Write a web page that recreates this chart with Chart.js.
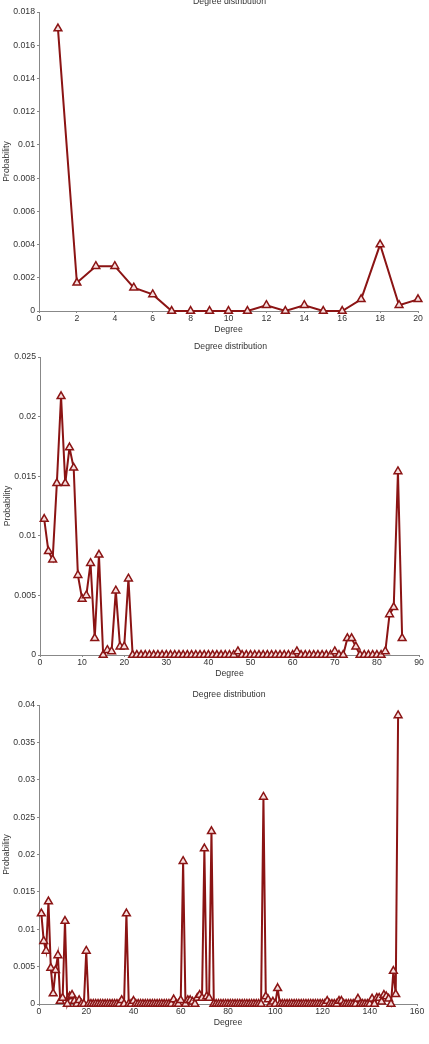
<!doctype html>
<html lang="en">

<head>
  <meta charset="utf-8">
  <title>Degree distribution</title>
  <script src="https://cdn.jsdelivr.net/npm/chart.js@4.4.0/dist/chart.umd.min.js"></script>
  <style>
    body { margin: 0; background: #fff; }
    #wrap { position: relative; width: 429px; height: 1044px; overflow: hidden; }
    .panel { position: absolute; left: 0; width: 429px; }
  </style>
</head>

<body>
  <div id="wrap">
    <div class="panel" style="top:0px;height:335px"><canvas id="c1"></canvas></div>
    <div class="panel" style="top:335px;height:344px"><canvas id="c2"></canvas></div>
    <div class="panel" style="top:685px;height:343px"><canvas id="c3"></canvas></div>
  </div>
  <script>
    // probability for degree 1, 2, 3, ... (index + 1 = degree)
    const prob1 = [0.017, 0.0017, 0.0027, 0.0027, 0.0014, 0.001, 0, 0, 0, 0,
      0, 0.00035, 0, 0.00035, 0, 0, 0.0007, 0.004, 0.00035, 0.0007];

    const prob2 = [0.0114, 0.0087, 0.0080, 0.0144, 0.0217, 0.0144, 0.0174, 0.0157, 0.0067, 0.0047,
      0.0050, 0.0077, 0.0014, 0.0084, 0, 0.0004, 0.0003, 0.0054, 0.0007, 0.0007,
      0.0064, 0, 0, 0, 0, 0, 0, 0, 0, 0,
      0, 0, 0, 0, 0, 0, 0, 0, 0, 0,
      0, 0, 0, 0, 0, 0, 0.0003, 0, 0, 0,
      0, 0, 0, 0, 0, 0, 0, 0, 0, 0,
      0.0003, 0, 0, 0, 0, 0, 0, 0, 0, 0.0003,
      0, 0, 0.0014, 0.0014, 0.0007, 0, 0, 0, 0, 0,
      0, 0.0003, 0.0034, 0.0040, 0.0154, 0.0014];

    const prob3 = [0.0121, 0.0084, 0.0071, 0.0137, 0.0048, 0.0014, 0.0045, 0.0065, 0.0004, 0.0008,
      0.0111, 0, 0.0010, 0.0012, 0.0004, 0, 0.0005, 0, 0, 0.0071,
      0, 0, 0, 0, 0, 0, 0, 0, 0, 0,
      0, 0, 0, 0, 0.0005, 0, 0.0121, 0, 0, 0.0004,
      0, 0, 0, 0, 0, 0, 0, 0, 0, 0,
      0, 0, 0, 0, 0, 0, 0.0006, 0, 0, 0.0005,
      0.0191, 0, 0.0005, 0.0005, 0.0003, 0, 0.0008, 0.0012, 0.0008, 0.0208,
      0.0010, 0.0008, 0.0231, 0, 0, 0, 0, 0, 0, 0,
      0, 0, 0, 0, 0, 0, 0, 0, 0, 0,
      0, 0, 0, 0, 0.0277, 0.0010, 0.0006, 0, 0.0003, 0,
      0.0021, 0, 0, 0, 0, 0, 0, 0, 0, 0,
      0, 0, 0, 0, 0, 0, 0, 0, 0, 0,
      0, 0.0004, 0, 0, 0, 0, 0.0004, 0.0004, 0, 0,
      0, 0, 0, 0, 0.0007, 0, 0, 0, 0, 0,
      0.0007, 0, 0.0008, 0.0008, 0.0003, 0.0012, 0.0010, 0.0007, 0, 0.0044,
      0.0013, 0.0386];

    const xMax = [20, 90, 160];
    const xStep = [2, 10, 20];
    const yMax = [0.018, 0.025, 0.04];
    const yStep = [0.002, 0.005, 0.005];

    const lineColor = '#8b1414';
    const textColor = '#333';
    const fontFamily = "'Liberation Sans', Arial, sans-serif";
    Chart.defaults.font.family = fontFamily;
    Chart.defaults.font.size = 8.7;
    Chart.defaults.color = textColor;

    // draws "Degree distribution" just above the plot area
    const titlePlugin = {
      id: 'plotTitle',
      afterDraw(chart) {
        const ctx = chart.ctx, a = chart.chartArea;
        ctx.save();
        ctx.fillStyle = textColor;
        ctx.font = '8.7px ' + fontFamily;
        ctx.textAlign = 'center';
        ctx.textBaseline = 'middle';
        ctx.fillText('Degree distribution', (a.left + a.right) / 2 + 1, a.top - 10);
        ctx.restore();
      }
    };

    function makeChart(id, probs, i, pad) {
      const pts = probs.map((p, k) => ({ x: k + 1, y: p }));
      const axisGrid = { drawOnChartArea: false, color: '#888', tickLength: 2 };
      new Chart(document.getElementById(id), {
        type: 'line',
        data: {
          datasets: [{
            data: pts,
            borderColor: lineColor,
            borderWidth: 2,
            pointStyle: 'triangle',
            pointRadius: 4.5,
            pointBorderWidth: 1.5,
            pointBorderColor: lineColor,
            pointBackgroundColor: '#f6dede',
            tension: 0,
            clip: false
          }]
        },
        options: {
          responsive: true,
          maintainAspectRatio: false,
          animation: false,
          layout: { padding: pad },
          plugins: { legend: { display: false }, tooltip: { enabled: false } },
          scales: {
            x: {
              type: 'linear',
              min: 0,
              max: xMax[i],
              border: { color: '#888' },
              grid: axisGrid,
              ticks: { stepSize: xStep[i], padding: 0, maxRotation: 0, color: textColor },
              title: { display: true, text: 'Degree', padding: 0, color: textColor },
              afterFit: s => { s.height = 24; }
            },
            y: {
              min: 0,
              max: yMax[i],
              border: { color: '#888' },
              grid: axisGrid,
              ticks: {
                stepSize: yStep[i], padding: 2, color: textColor,
                callback: v => String(+v.toFixed(6))
              },
              title: { display: true, text: 'Probability', padding: { top: 1, bottom: 0 }, color: textColor },
              afterFit: s => { s.width = 39; }
            }
          }
        },
        plugins: [titlePlugin]
      });
    }

    makeChart('c1', prob1, 0, { top: 12, right: 11, left: 0, bottom: 0 });
    makeChart('c2', prob2, 1, { top: 22, right: 10, left: 1, bottom: 0 });
    makeChart('c3', prob3, 2, { top: 20, right: 12, left: 0, bottom: 0 });
  </script>
</body>

</html>
